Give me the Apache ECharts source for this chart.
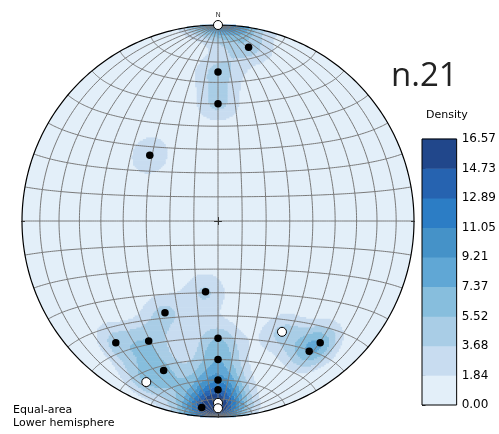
<!DOCTYPE html>
<html>
<head>
<meta charset="utf-8">
<script src="https://cdn.jsdelivr.net/npm/echarts@6/dist/echarts.min.js"></script>
<style>
  html, body { margin: 0; padding: 0; background: #ffffff; }
  #chart { width: 499px; height: 434px; }
</style>
</head>
<body>
<div id="chart"></div>
<script>
// Lineations, plunge / trend in degrees (solid symbols)
const solidPlunge = [11, 25, 40, 50, 60, 45, 20, 30, 40, 30, 20, 20, 15, 5, 20, 20];
const solidTrend  = [10, 0, 0, 314, 190, 210, 220, 210, 180, 180, 200, 180, 180, 185, 140, 145];
// Lineations drawn with open symbols
const openPlunge = [0, 11, 8, 5, 35];
const openTrend  = [0, 204, 180, 180, 150];

// Contour levels of the density field and their fills
const densityLevels = [0, 1.84, 3.68, 5.52, 7.37, 9.21, 11.05, 12.89, 14.73, 16.57];
const levelColors = ['#e3eff9', '#c8dcf0', '#a9cde6', '#87bedd', '#60a7d5',
                     '#4592c8', '#2c7dc5', '#2663b0', '#21478b'];
const sampleLabel = 'n.21';

const D = Math.PI / 180;

// unit vector [east, north, down] of a line
function lineVector(plunge, trend) {
  const p = plunge * D, t = trend * D;
  return [Math.cos(p) * Math.sin(t), Math.cos(p) * Math.cos(t), Math.sin(p)];
}
// Lambert equal-area, lower hemisphere, primitive radius 1
function projectVector(v) {
  const k = 1 / Math.sqrt(1 + v[2]);
  return [v[0] * k, v[1] * k];
}
function projectLonLat(lon, lat) {
  const a = lon * D, b = lat * D;
  return projectVector([Math.cos(b) * Math.sin(a), Math.sin(b), Math.cos(b) * Math.cos(a)]);
}

const solidVec = solidPlunge.map((p, i) => lineVector(p, solidTrend[i]));
const openVec = openPlunge.map((p, i) => lineVector(p, openTrend[i]));
const allVec = solidVec.concat(openVec);

// Net: meridians and small circles every 10 degrees
const netLines = [];
for (let lon = -80; lon <= 80; lon += 10) {
  const pts = [];
  for (let lat = -90; lat <= 90; lat += 1) pts.push(projectLonLat(lon, lat));
  netLines.push({ coords: pts });
}
for (let lat = -80; lat <= 80; lat += 10) {
  const pts = [];
  for (let lon = -90; lon <= 90; lon += 1) pts.push(projectLonLat(lon, lat));
  netLines.push({ coords: pts });
}
const primitive = [];
for (let a = 0; a <= 360; a += 1) primitive.push([Math.cos(a * D), Math.sin(a * D)]);

// Axial exponential kernel density with a small background offset,
// sampled on a fine grid of the net
const KAPPA = 70, GAIN = 4.47, OFFSET = 0.15;
function bandOf(v) {
  let b = 0;
  for (let i = 1; i < densityLevels.length - 1; i++) if (v >= densityLevels[i]) b = i;
  return b;
}
const CELLS = 240, step = 2 / CELLS;
const densityRuns = [];
for (let j = 0; j < CELLS; j++) {
  const y = -1 + (j + 0.5) * step;
  const chord = Math.sqrt(Math.max(0, 1 - y * y));
  let start = null, cur = -1;
  const flush = (endX) => {
    if (cur >= 1 && start !== null) {
      densityRuns.push([Math.max(start, -chord), Math.min(endX, chord), y, cur]);
    }
  };
  for (let i = 0; i < CELLS; i++) {
    const x = -1 + (i + 0.5) * step;
    const xl = x - step / 2, xr = x + step / 2;
    let band = -1;
    if (xr > -chord && xl < chord) {
      let X = x, Y = y, r2 = X * X + Y * Y;
      if (r2 > 1) { const s = 1 / Math.sqrt(r2); X *= s; Y *= s; r2 = 1; }
      const f = Math.sqrt(2 - r2);
      const v = [X * f, Y * f, 1 - r2];
      let sum = 0;
      for (const q of allVec) {
        const c = Math.abs(v[0] * q[0] + v[1] * q[1] + v[2] * q[2]);
        sum += Math.exp(KAPPA * (c - 1));
      }
      band = bandOf(Math.max(0, GAIN * (sum - OFFSET)));
    }
    if (band !== cur) {
      flush(xl);
      cur = band; start = xl;
    }
  }
  flush(1);
}

const chart = echarts.init(document.getElementById('chart'), null, { renderer: 'canvas' });

const option = {
  animation: false,
  backgroundColor: '#ffffff',
  grid: [
    { left: 22, top: 25, width: 392, height: 392 },
    { left: 422, top: 139, width: 36, height: 266 }
  ],
  xAxis: [
    { gridIndex: 0, type: 'value', min: -1, max: 1, show: false },
    { gridIndex: 1, type: 'value', min: 0, max: 1, show: false }
  ],
  yAxis: [
    { gridIndex: 0, type: 'value', min: -1, max: 1, show: false },
    {
      gridIndex: 1, type: 'value', min: 0, max: 16.57, position: 'right',
      axisLine: { show: false },
      splitLine: { show: false },
      axisTick: { show: true, length: 3.5, lineStyle: { color: '#000', width: 1 }, customValues: densityLevels },
      axisLabel: {
        customValues: densityLevels,
        formatter: (v) => Number(v).toFixed(2),
        color: '#000', fontSize: 12, fontFamily: 'DejaVu Sans', margin: 5
      }
    }
  ],
  graphic: [
    { type: 'text', left: 391, top: 60, style: { text: sampleLabel, font: '33px "Open Sans"', fill: '#222' } },
    { type: 'text', left: 426, top: 110, style: { text: 'Density', font: '11px "DejaVu Sans"', fill: '#000' } },
    { type: 'text', left: 13, top: 404, style: { text: 'Equal-area\nLower hemisphere', font: '11px "DejaVu Sans"', fill: '#000', lineHeight: 13 } }
  ],
  series: [
    {
      // disk background (lowest density band)
      type: 'custom', xAxisIndex: 0, yAxisIndex: 0, z: 1,
      data: [[0, 0]],
      renderItem: (params, api) => {
        const c = api.coord([0, 0]);
        const e = api.coord([1, 0]);
        return { type: 'circle', shape: { cx: c[0], cy: c[1], r: e[0] - c[0] }, style: { fill: levelColors[0] } };
      }
    },
    {
      // density bands
      type: 'custom', xAxisIndex: 0, yAxisIndex: 0, z: 2,
      encode: { x: [0, 1], y: 2 },
      data: densityRuns,
      renderItem: (params, api) => {
        const x0 = api.value(0), x1 = api.value(1), yc = api.value(2), b = api.value(3);
        const p0 = api.coord([x0, yc + step / 2]);
        const p1 = api.coord([x1, yc - step / 2]);
        return {
          type: 'rect',
          shape: { x: p0[0], y: p0[1] - 0.3, width: p1[0] - p0[0], height: p1[1] - p0[1] + 0.6 },
          style: { fill: levelColors[b] }
        };
      }
    },
    {
      type: 'lines', coordinateSystem: 'cartesian2d', xAxisIndex: 0, yAxisIndex: 0, z: 3,
      polyline: true, silent: true,
      lineStyle: { color: '#7a7a7a', width: 1, opacity: 1 },
      data: netLines
    },
    {
      type: 'lines', coordinateSystem: 'cartesian2d', xAxisIndex: 0, yAxisIndex: 0, z: 4,
      polyline: true, silent: true,
      lineStyle: { color: '#000', width: 1.2, opacity: 1 },
      data: [{ coords: primitive }]
    },
    {
      // cardinal ticks
      type: 'lines', coordinateSystem: 'cartesian2d', xAxisIndex: 0, yAxisIndex: 0, z: 4,
      silent: true,
      lineStyle: { color: '#333', width: 1, opacity: 1 },
      data: [
        { coords: [[0.985, 0], [1.018, 0]] }, { coords: [[-0.985, 0], [-1.018, 0]] },
        { coords: [[0, 0.985], [0, 1.018]] }, { coords: [[0, -0.985], [0, -1.018]] },
        { coords: [[-0.02, 0], [0.02, 0]] }, { coords: [[0, -0.02], [0, 0.02]] }
      ]
    },
    {
      type: 'scatter', xAxisIndex: 0, yAxisIndex: 0, z: 6,
      symbolSize: 0, data: [[0, 1]],
      label: { show: true, position: 'top', distance: 6, formatter: 'N', fontSize: 7, color: '#000', fontFamily: 'DejaVu Sans' }
    },
    {
      type: 'scatter', xAxisIndex: 0, yAxisIndex: 0, z: 5,
      symbolSize: 7.5, itemStyle: { color: '#000', opacity: 1 },
      data: solidVec.map(projectVector)
    },
    {
      type: 'scatter', xAxisIndex: 0, yAxisIndex: 0, z: 5,
      symbolSize: 9, itemStyle: { color: '#fff', borderColor: '#000', borderWidth: 1, opacity: 1 },
      data: openVec.map(projectVector)
    },
    {
      // colour bar
      type: 'custom', xAxisIndex: 1, yAxisIndex: 1, z: 2,
      data: levelColors.map((c, i) => [i]),
      renderItem: (params, api) => {
        const i = api.value(0);
        const a = api.coord([0, densityLevels[i + 1]]);
        const b = api.coord([1, densityLevels[i]]);
        return { type: 'rect', shape: { x: a[0], y: a[1] - 0.3, width: b[0] - a[0], height: b[1] - a[1] + 0.6 }, style: { fill: levelColors[i] } };
      }
    },
    {
      type: 'custom', xAxisIndex: 1, yAxisIndex: 1, z: 3,
      data: [[0]],
      renderItem: (params, api) => {
        const a = api.coord([0, densityLevels[densityLevels.length - 1]]);
        const b = api.coord([1, 0]);
        return { type: 'rect', shape: { x: a[0], y: a[1], width: b[0] - a[0], height: b[1] - a[1] }, style: { fill: 'none', stroke: '#000', lineWidth: 1 } };
      }
    }
  ]
};
chart.setOption(option);
</script>
</body>
</html>
